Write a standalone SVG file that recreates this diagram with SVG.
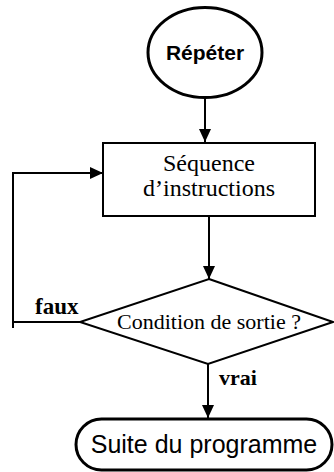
<svg xmlns="http://www.w3.org/2000/svg" width="334" height="472" viewBox="0 0 334 472">
<defs>
<marker id="arr" viewBox="0 0 13 12" refX="13" refY="6" markerWidth="13" markerHeight="12" markerUnits="userSpaceOnUse" orient="auto">
<path d="M0,0 L13,6 L0,12 z" fill="#000"/>
</marker>
<style>
.shape{fill:#fff;stroke:#000;stroke-width:2}
.thick{fill:#fff;stroke:#000;stroke-width:3}
.line{fill:none;stroke:#000;stroke-width:2}
.serif{font-family:"Liberation Serif","Times New Roman",serif;fill:#000}
.sans{font-family:"Liberation Sans",Arial,sans-serif;fill:#000}
</style>
</defs>
<rect width="334" height="472" fill="#fff"/>
<g id="connectors">
<path class="line" d="M205,98 V142" marker-end="url(#arr)"/>
<path class="line" d="M209,216 V279" marker-end="url(#arr)"/>
<path class="line" d="M208,364 V418" marker-end="url(#arr)"/>
<path class="line" d="M80,322 H13 M13,328 V173 H103" marker-end="url(#arr)"/>
</g>
<g id="start">
<ellipse class="thick" cx="205" cy="52.5" rx="57" ry="45"/>
<text class="sans" x="205" y="60" font-size="21" font-weight="bold" text-anchor="middle">Répéter</text>
</g>
<g id="sequence">
<rect class="shape" x="103" y="143" width="212" height="73"/>
<text class="serif" x="209" y="171" font-size="24" text-anchor="middle">Séquence</text>
<text class="serif" x="209" y="196" font-size="24" text-anchor="middle">d’instructions</text>
</g>
<g id="condition">
<polygon class="shape" points="209,279 333,322 208,364 80,322"/>
<text class="serif" x="209" y="329" font-size="22" text-anchor="middle">Condition de sortie ?</text>
</g>
<g id="labels">
<text class="serif" x="35" y="314" font-size="23" font-weight="bold">faux</text>
<text class="serif" x="219" y="385" font-size="22" font-weight="bold">vrai</text>
</g>
<g id="end">
<rect class="thick" x="76" y="419" width="256" height="51" rx="25.5" ry="25.5"/>
<text class="sans" x="204" y="453" font-size="25" text-anchor="middle">Suite du programme</text>
</g>
</svg>
